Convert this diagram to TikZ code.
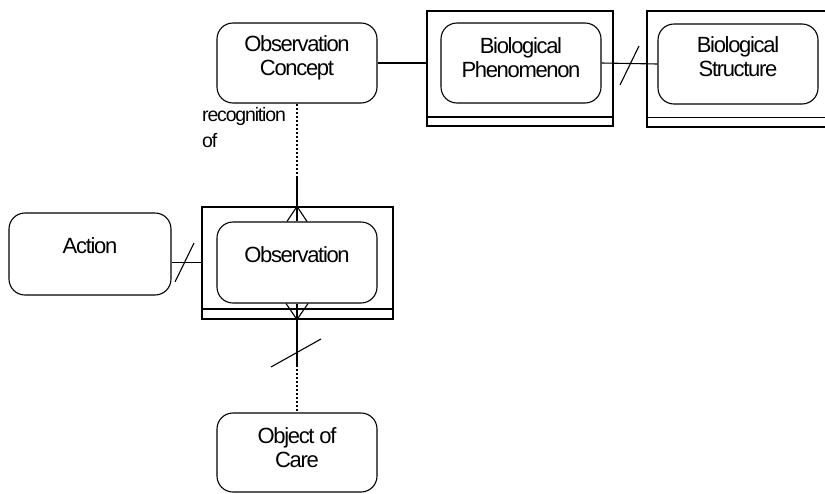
\documentclass[tikz,border=0pt]{standalone}
\usepackage{fontspec}
\setmainfont{Liberation Sans}[LetterSpace=-6]
\begin{document}
\begin{tikzpicture}[x=1pt,y=-1pt,
  ent/.style={draw, rounded corners=16pt, line width=1.1pt, inner sep=0pt},
  outerbox/.style={draw, line width=1.1pt, inner sep=0pt},
  conn/.style={line width=1.1pt},
  dotline/.style={line width=2pt, dash pattern=on 2pt off 2pt},
  txt/.style={align=center, inner sep=0pt, font=\fontsize{22}{24}\selectfont},
  lbl/.style={align=left, inner sep=0pt, anchor=west, font=\fontsize{19.5}{26}\selectfont}]
\useasboundingbox (0,0) rectangle (825,493);
% entities
\node[ent, minimum width=160pt, minimum height=80pt] (oc) at (297,63) {};
\node[outerbox, minimum width=186pt, minimum height=115pt] (bpo) at (520,68.5) {};
\node[ent, minimum width=160pt, minimum height=80pt] (bpi) at (521,63) {};
\node[outerbox, minimum width=186pt, minimum height=116pt] (bso) at (740,69) {};
\node[ent, minimum width=160pt, minimum height=80pt] (bsi) at (738,64) {};
\node[outerbox, minimum width=191pt, minimum height=112pt] (obso) at (297.5,263) {};
\node[ent, minimum width=160pt, minimum height=81pt] (obsi) at (297,262.5) {};
\node[ent, minimum width=162pt, minimum height=82pt] (act) at (90,254) {};
\node[ent, minimum width=160pt, minimum height=79pt] (ooc) at (297,452.5) {};
% inner bars of the outer boxes
\draw[conn] (bpo.west |- 0,117) -- (bpo.east |- 0,117);
\draw[conn] (bso.west |- 0,117.5) -- (bso.east |- 0,117.5);
\draw[conn] (obso.west |- 0,309) -- (obso.east |- 0,309);
% texts
\node[txt] (toc) at (297,58) {Observation\\Concept};
\node[txt] (tbp) at (521,57.5) {Biological\\Phenomenon};
\node[txt] (tbs) at (738,57) {Biological\\Structure};
\node[txt] (tobs) at (297,255) {Observation};
\node[txt] (tact) at (90,246) {Action};
\node[txt] (tooc) at (297,448) {Object of\\Care};
\node[lbl] (trec) at (202,127.5) {recognition\\of};
% connectors
\draw[conn] (oc.east) -- (oc.east -| bpo.west);
\draw[conn] (bpi.east) -- (bsi.west);
\coordinate (s1) at (629.5,65.5);
\draw[conn] ([shift={(-9.5,19.5)}]s1) -- ([shift={(9.5,-19.5)}]s1);
\coordinate (m1) at (297,176);
\draw[dotline] (oc.south) -- (m1);
\draw[conn] (m1) -- (obsi.north);
\draw[conn] ([xshift=-10pt]obsi.north) -- (obsi.north |- obso.north) -- ([xshift=10pt]obsi.north);
\coordinate (m2) at (297,365);
\draw[conn] (obsi.south) -- (m2);
\draw[dotline] (m2) -- (ooc.north);
\draw[conn] ([xshift=-11pt]obsi.south) -- (obsi.south |- obso.south) -- ([xshift=11pt]obsi.south);
\coordinate (s2) at (296,353);
\draw[conn] ([shift={(-25,14)}]s2) -- ([shift={(25,-14)}]s2);
\draw[conn] (act.east |- obsi.center) -- (obso.west |- obsi.center);
\coordinate (s3) at (184.5,262.5);
\draw[conn] ([shift={(-9.5,19.5)}]s3) -- ([shift={(9.5,-19.5)}]s3);
\end{tikzpicture}
\end{document}
